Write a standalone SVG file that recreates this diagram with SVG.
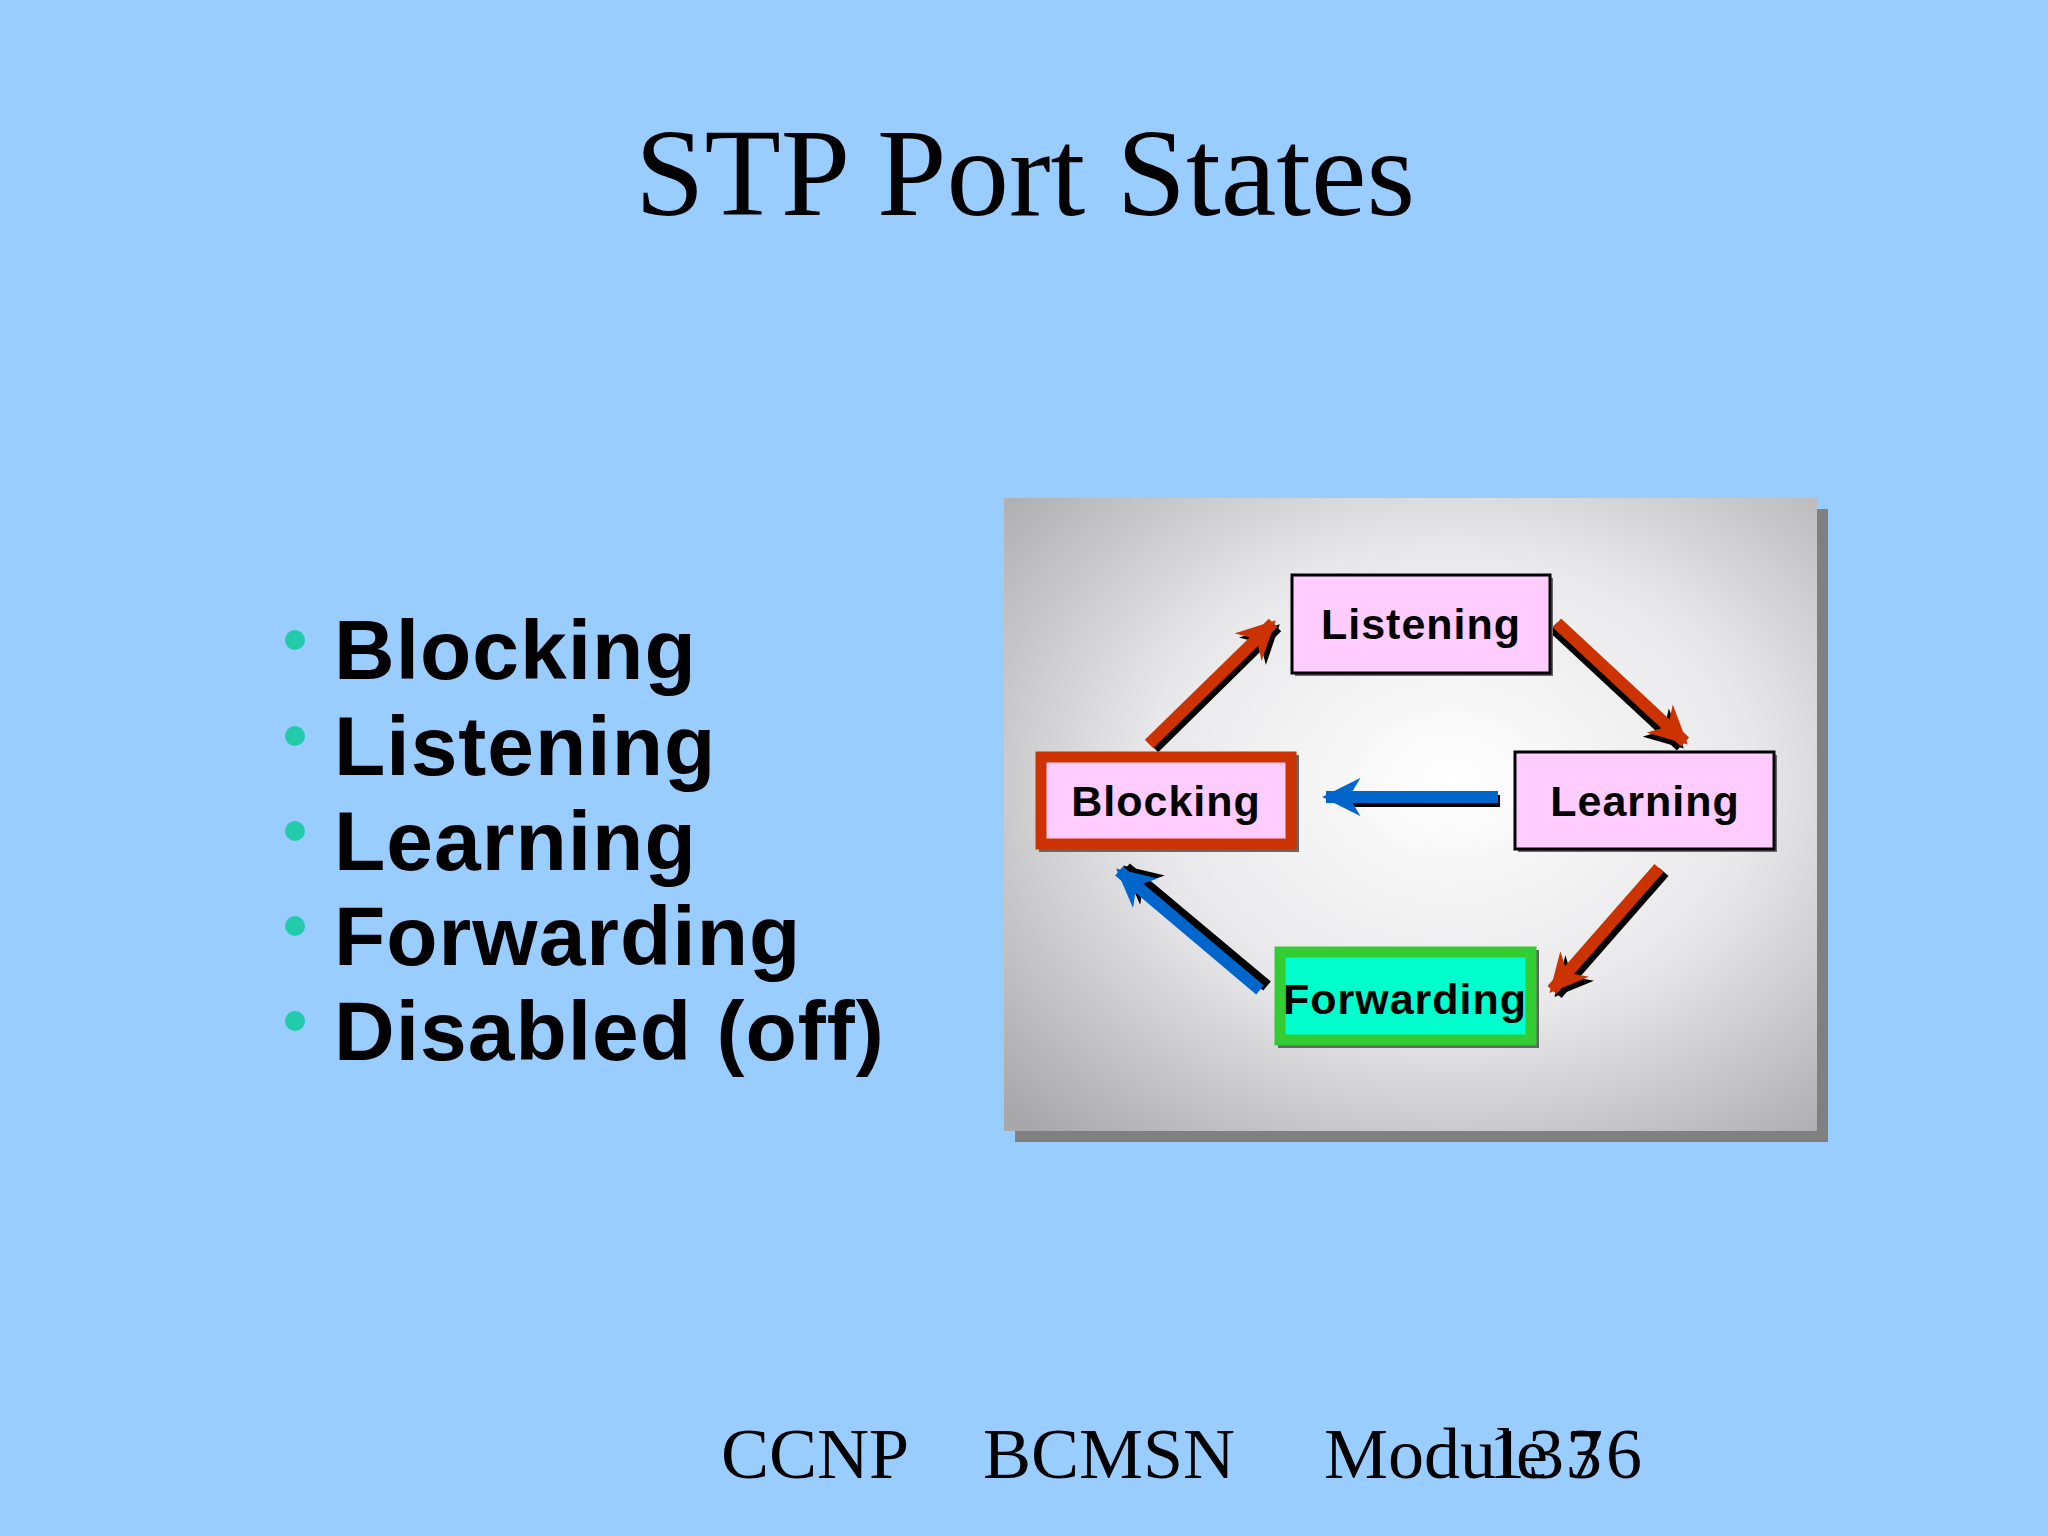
<svg xmlns="http://www.w3.org/2000/svg" width="2048" height="1536" viewBox="0 0 2048 1536">
<defs>
<radialGradient id="pg" cx="0.55" cy="0.45" r="0.75">
<stop offset="0" stop-color="#ffffff"/><stop offset="0.5" stop-color="#e8e8ea"/><stop offset="1" stop-color="#a8a8aa"/>
</radialGradient>
<marker id="ar" viewBox="0 0 10 10" refX="9" refY="5" markerWidth="3.2" markerHeight="3.2" orient="auto" markerUnits="strokeWidth"><path d="M0,0 L10,5 L0,10 L3,5 Z" fill="#cc3300"/></marker>
<marker id="ab" viewBox="0 0 10 10" refX="9" refY="5" markerWidth="3.2" markerHeight="3.2" orient="auto" markerUnits="strokeWidth"><path d="M0,0 L10,5 L0,10 L3,5 Z" fill="#0066cc"/></marker>
<marker id="ak" viewBox="0 0 10 10" refX="9" refY="5" markerWidth="3.2" markerHeight="3.2" orient="auto" markerUnits="strokeWidth"><path d="M0,0 L10,5 L0,10 L3,5 Z" fill="#000"/></marker>
</defs>
<style>
.b{font-family:"Liberation Sans",Arial,sans-serif;font-weight:bold;fill:#000}
.s{font-family:"Liberation Serif","Times New Roman",serif;fill:#000}
.bl{font-size:84px;letter-spacing:1px}
.nl{font-size:43px;letter-spacing:1px;text-anchor:middle}
.sh{stroke:#000;stroke-width:12;fill:none}
.r{stroke:#cc3300;stroke-width:12;fill:none}
.u{stroke:#0066cc;stroke-width:12;fill:none}
</style>
<rect width="2048" height="1536" fill="#99ccff"/>
<text class="s" x="1025" y="215" font-size="125" text-anchor="middle">STP Port States</text>
<g id="bullets" class="b bl">
<circle cx="295" cy="640" r="10" fill="#22ccaa"/><text x="334" y="679">Blocking</text>
<circle cx="295" cy="736" r="10" fill="#22ccaa"/><text x="334" y="775">Listening</text>
<circle cx="295" cy="831" r="10" fill="#22ccaa"/><text x="334" y="870">Learning</text>
<circle cx="295" cy="926" r="10" fill="#22ccaa"/><text x="334" y="965">Forwarding</text>
<circle cx="295" cy="1021" r="10" fill="#22ccaa"/><text x="334" y="1060">Disabled (off)</text>
</g>
<rect x="1015" y="509" width="813" height="633" fill="#808080"/>
<rect x="1004" y="498" width="813" height="633" fill="url(#pg)"/>
<g id="connectors">
<line class="sh" x1="1154" y1="748" x2="1277" y2="627" marker-end="url(#ak)"/>
<line class="r" x1="1149" y1="744" x2="1273" y2="623" marker-end="url(#ar)"/>
<line class="sh" x1="1553" y1="627" x2="1681" y2="746" marker-end="url(#ak)"/>
<line class="r" x1="1557" y1="623" x2="1685" y2="742" marker-end="url(#ar)"/>
<line class="sh" x1="1664" y1="872" x2="1557" y2="994" marker-end="url(#ak)"/>
<line class="r" x1="1659" y1="868" x2="1552" y2="990" marker-end="url(#ar)"/>
<line class="sh" x1="1267" y1="986" x2="1126" y2="868" marker-end="url(#ak)"/>
<line class="u" x1="1260" y1="990" x2="1119" y2="871" marker-end="url(#ab)"/>
<line class="sh" x1="1500" y1="801" x2="1346" y2="801"/>
<line class="u" x1="1498" y1="797" x2="1326" y2="797" marker-end="url(#ab)"/>
</g>
<g id="listening"><rect x="1295" y="578" width="258" height="98" fill="#666"/><rect x="1292" y="575" width="258" height="98" fill="#ffccff" stroke="#000" stroke-width="3"/><text class="b nl" x="1421" y="639">Listening</text></g>
<g id="learning"><rect x="1518" y="755" width="259" height="97" fill="#666"/><rect x="1515" y="752" width="259" height="97" fill="#ffccff" stroke="#000" stroke-width="3"/><text class="b nl" x="1645" y="816">Learning</text></g>
<g id="blocking"><rect x="1039" y="755" width="260" height="97" fill="#666"/><rect x="1041" y="757" width="250" height="87" fill="#ffccff" stroke="#cc3300" stroke-width="11"/><text class="b nl" x="1166" y="816">Blocking</text></g>
<g id="forwarding"><rect x="1278" y="950" width="261" height="98" fill="#666"/><rect x="1280" y="952" width="251" height="88" fill="#00ffcc" stroke="#33cc33" stroke-width="11"/><text class="b nl" x="1405" y="1014">Forwarding</text></g>
<g id="footer" class="s" font-size="72">
<text x="721" y="1478">CCNP</text><text x="983" y="1478">BCMSN</text><text x="1324" y="1478">Module 3</text><text x="1489" y="1478" textLength="153">1376</text>
</g>
</svg>
